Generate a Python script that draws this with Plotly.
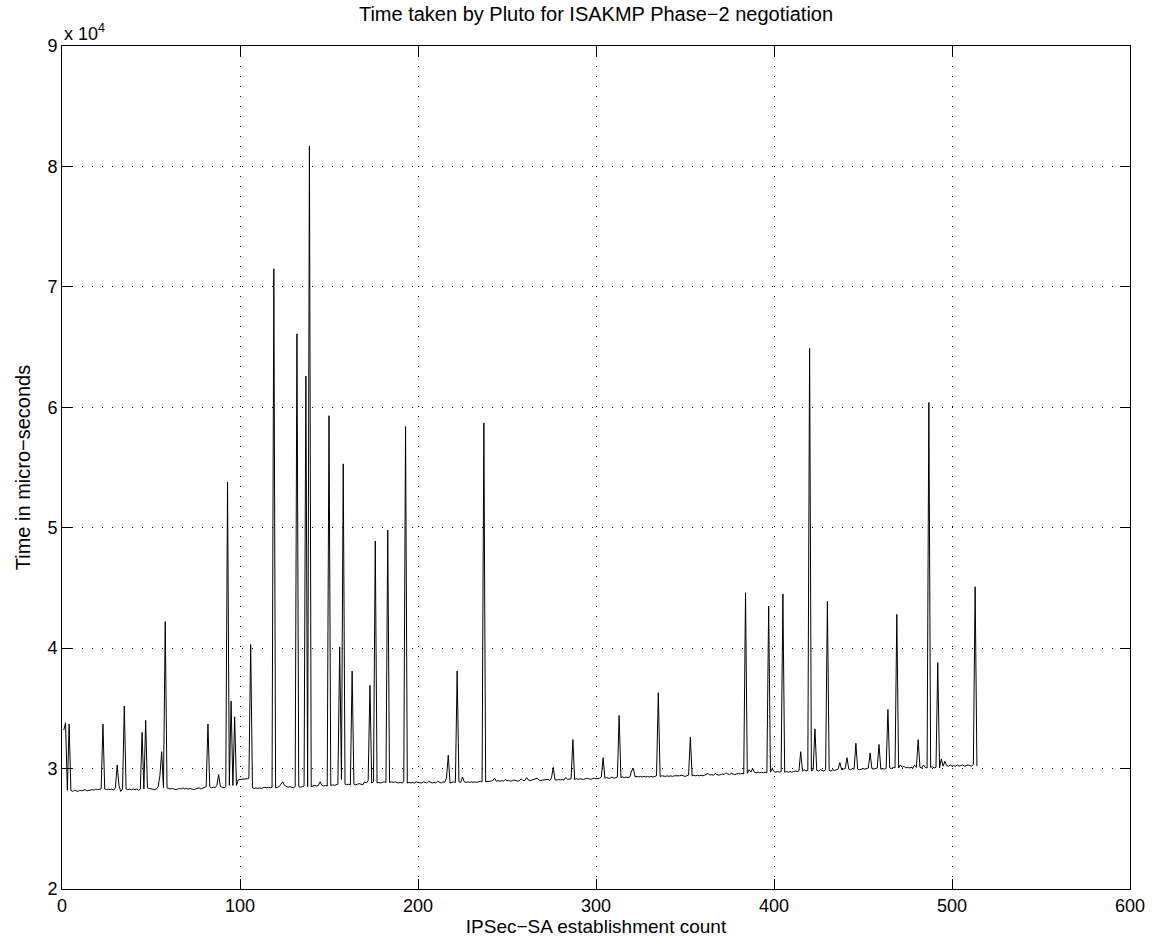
import plotly.graph_objects as go

# Time taken (micro-seconds) for each IPSec-SA establishment
time_us = [
    33200, 33800, 28200, 33700, 28200, 28100, 28200, 28150, 28100, 28200,   # 1
    28150, 28200, 28250, 28150, 28200, 28200, 28250, 28200, 28300, 28250,   # 11
    28250, 28300, 33700, 28300, 28250, 28300, 28250, 28300, 28200, 28400,   # 21
    30300, 28600, 28100, 28300, 35200, 28300, 28250, 28300, 28250, 28300,   # 31
    28250, 28300, 28200, 28300, 33000, 28300, 34000, 28400, 28350, 28300,   # 41
    28300, 28250, 28300, 28500, 29400, 31400, 28400, 42200, 28400, 28350,   # 51
    28300, 28350, 28300, 28250, 28300, 28350, 28300, 28400, 28300, 28350,   # 61
    28300, 28350, 28300, 28250, 28300, 28350, 28400, 28300, 28350, 28400,   # 71
    28500, 33700, 28500, 28400, 28450, 28400, 28600, 29500, 28500, 28450,   # 81
    28400, 28500, 53800, 28600, 35600, 28600, 34300, 28600, 29050, 29100,   # 91
    29100, 29100, 29100, 29150, 29200, 40300, 28400, 28350, 28400, 28350,   # 101
    28400, 28350, 28400, 28450, 28400, 28450, 28400, 28450, 71500, 28400,   # 111
    28450, 28500, 28700, 28900, 28600, 28500, 28450, 28500, 28450, 28400,   # 121
    28500, 66100, 28500, 28450, 28500, 28550, 62600, 28500, 81700, 28500,   # 131
    28550, 28600, 28550, 28600, 28900, 28600, 28550, 28600, 28550, 59300,   # 141
    28600, 28650, 28600, 28650, 28700, 40100, 29100, 55300, 28700, 28650,   # 151
    28700, 28650, 38100, 28700, 28650, 28700, 28750, 28700, 28650, 28900,   # 161
    28800, 29000, 36900, 28800, 28900, 48900, 28800, 28850, 28800, 28850,   # 171
    28900, 28850, 49800, 28850, 28900, 28850, 28900, 28850, 28800, 28850,   # 181
    28800, 28900, 58400, 28800, 28850, 28800, 28850, 28800, 28900, 28850,   # 191
    28850, 28800, 28900, 28850, 28800, 28950, 28850, 28800, 28850, 28800,   # 201
    28950, 28850, 28800, 28900, 28850, 29200, 31100, 28800, 28850, 28900,   # 211
    28850, 38100, 28900, 28850, 29300, 28900, 28850, 28900, 28850, 28900,   # 221
    28850, 28900, 28850, 28900, 28950, 28900, 58700, 28900, 28950, 28950,   # 231
    28950, 29000, 29200, 28950, 29000, 28950, 29000, 28950, 29100, 29000,   # 241
    29000, 28950, 29000, 29050, 29000, 28950, 29000, 29150, 29000, 29000,   # 251
    29250, 29050, 29000, 29050, 29050, 29100, 29200, 29050, 29000, 29050,   # 261
    29050, 29050, 29100, 29000, 29250, 30100, 29050, 29050, 29100, 29050,   # 271
    29100, 29050, 29250, 29100, 29100, 29150, 32400, 29100, 29150, 29100,   # 281
    29150, 29100, 29100, 29150, 29200, 29150, 29100, 29150, 29200, 29150,   # 291
    29150, 29200, 29300, 30900, 29200, 29250, 29200, 29200, 29300, 29200,   # 301
    29250, 29300, 34400, 29250, 29300, 29250, 29300, 29250, 29300, 29800,   # 311
    30000, 29300, 29350, 29300, 29350, 29300, 29350, 29300, 29350, 29300,   # 321
    29350, 29300, 29350, 29400, 36300, 29350, 29400, 29350, 29350, 29400,   # 331
    29350, 29400, 29350, 29400, 29400, 29350, 29400, 29450, 29400, 29350,   # 341
    29400, 29450, 32600, 29400, 29450, 29400, 29450, 29400, 29450, 29400,   # 351
    29450, 29500, 29600, 29450, 29500, 29450, 29600, 29500, 29450, 29500,   # 361
    29550, 29500, 29650, 29550, 29500, 29600, 29550, 29500, 29550, 29600,   # 371
    29550, 29600, 29550, 44600, 29600, 29900, 29700, 30000, 29700, 29650,   # 381
    29700, 29650, 29700, 29650, 29700, 29650, 43500, 29700, 30000, 29750,   # 391
    29700, 29750, 29700, 29750, 44500, 29700, 29750, 29700, 29750, 29700,   # 401
    29750, 29800, 29750, 29800, 31400, 29800, 29900, 29800, 29850, 64900,   # 411
    29800, 29900, 33300, 29850, 29800, 29900, 29850, 29800, 29900, 43900,   # 421
    29850, 29800, 29900, 29850, 29900, 29950, 30500, 29900, 29950, 30000,   # 431
    30900, 29950, 29900, 30000, 29950, 32100, 29950, 29900, 29950, 30000,   # 441
    29950, 30000, 30050, 31300, 30000, 29950, 30000, 30050, 32000, 29950,   # 451
    30000, 29950, 30000, 34900, 30050, 30000, 30100, 30050, 42800, 30050,   # 461
    30300, 30100, 30200, 30050, 30100, 30050, 30100, 30050, 30300, 30100,   # 471
    32400, 30100, 30050, 30300, 30100, 30050, 60400, 30100, 30150, 30050,   # 481
    30100, 38800, 30050, 30800, 30200, 30600, 30250, 30200, 30300, 30200,   # 491
    30250, 30200, 30300, 30200, 30250, 30300, 30200, 30250, 30300, 30250,   # 501
    30200, 30350, 45100, 30200,                                             # 511
]
count = list(range(1, len(time_us) + 1))

x_ticks = [0, 100, 200, 300, 400, 500, 600]
y_ticks = [20000, 30000, 40000, 50000, 60000, 70000, 80000, 90000]
y_tick_text = ["2", "3", "4", "5", "6", "7", "8", "9"]

FONT = "Liberation Sans, Arial, Helvetica, sans-serif"
FS_TICK = 18
FS_TITLE = 20
FS_XLAB = 19
FS_YLAB = 20

fig = go.Figure(
    go.Scatter(x=count, y=time_us, mode="lines",
               line=dict(color="black", width=1), showlegend=False,
               hoverinfo="x+y")
)

axis_common = dict(
    showline=True, linecolor="black", linewidth=1, mirror="ticks",
    ticks="inside", ticklen=10, tickcolor="black", tickwidth=1,
    showgrid=True, gridcolor="black", gridwidth=1, griddash="1px,9px",
    zeroline=False, tickfont=dict(family=FONT, size=FS_TICK, color="black"),
)

fig.update_layout(
    width=1160, height=951,
    margin=dict(l=62, r=30, t=46, b=62),
    paper_bgcolor="white", plot_bgcolor="white",
    font=dict(family=FONT, size=FS_TICK, color="black"),
    title=dict(text="Time taken by Pluto for ISAKMP Phase\u22122 negotiation",
               x=0.5, xref="paper", xanchor="center",
               y=1 - 14 / 951, yref="container", yanchor="middle",
               font=dict(family=FONT, size=FS_TITLE, color="black")),
    xaxis=dict(range=[0, 600], tickvals=x_ticks,
               title=dict(text="IPSec\u2212SA establishment count", standoff=4,
                          font=dict(family=FONT, size=FS_XLAB)),
               **axis_common),
    yaxis=dict(range=[20000, 90000], tickvals=y_ticks, ticktext=y_tick_text,
               title=dict(text="Time in micro\u2212seconds", standoff=11,
                          font=dict(family=FONT, size=FS_YLAB)),
               **axis_common),
    annotations=[dict(text="x 10<sup>4</sup>", xref="paper", yref="paper",
                      x=0, y=1, xanchor="left", yanchor="bottom", yshift=0,
                      showarrow=False,
                      font=dict(family=FONT, size=FS_TICK, color="black"))],
)

fig.write_html("out.html")
